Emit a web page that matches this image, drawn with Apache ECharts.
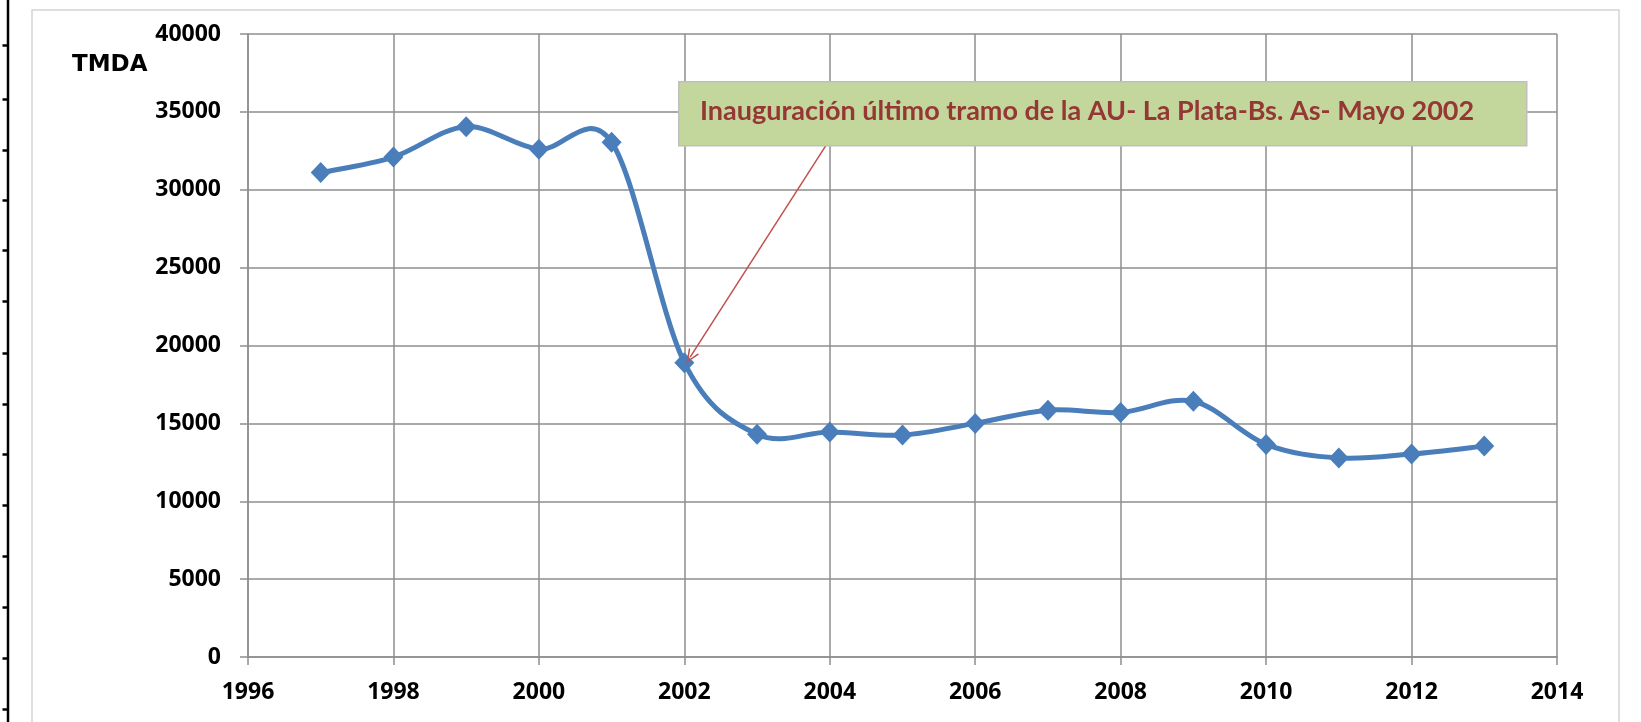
<!DOCTYPE html>
<html>
<head>
<meta charset="utf-8">
<script src="https://cdn.jsdelivr.net/npm/echarts@6/dist/echarts.min.js"></script>
<style>
html,body{margin:0;padding:0;background:#fff;}
#chart{width:1641px;height:722px;}
</style>
</head>
<body>
<div id="chart"></div>
<script>
// TMDA por año
var years = [1997, 1998, 1999, 2000, 2001, 2002, 2003, 2004, 2005, 2006, 2007, 2008, 2009, 2010, 2011, 2012, 2013];
var tmda  = [31100, 32100, 34050, 32600, 33050, 18900, 14300, 14450, 14250, 15000, 15850, 15700, 16420, 13650, 12780, 13030, 13540];

var annotText = 'Inauguración último tramo de la AU- La Plata-Bs. As- Mayo 2002';
// arrow from the note box down to the 2002 point
var arrowFrom = [2003.95, 32860];
var arrowTo = [2002.08, 19250];

var tickFont = '"Open Sans", sans-serif';
var gridColor = '#8e8e8e';
var lineColor = '#4A7EBB';

// stray ruler on the left edge of the picture
var rulerTicks = [-8, 43, 97, 148, 198, 248, 299, 351, 402, 452, 503, 554, 605, 656, 707];

var rulerEls = [{
    type: 'line',
    shape: {x1: 5.5, y1: 0, x2: 5.5, y2: 740},
    style: {stroke: '#000', lineWidth: 2.5}
}];
rulerTicks.forEach(function (y) {
    rulerEls.push({
        type: 'line',
        shape: {x1: 0, y1: y + 8, x2: 6, y2: y + 8},
        style: {stroke: '#000', lineWidth: 2.5}
    });
});

// one item per segment: previous, start, end, next point (excel-like smoothing)
var segData = [];
for (var i = 0; i < years.length - 1; i++) {
    var a = Math.max(i - 1, 0), d = Math.min(i + 2, years.length - 1);
    segData.push([years[a], tmda[a], years[i], tmda[i], years[i + 1], tmda[i + 1], years[d], tmda[d]]);
}

function renderSeg(params, api) {
    var p0 = api.coord([api.value(0), api.value(1)]);
    var p1 = api.coord([api.value(2), api.value(3)]);
    var p2 = api.coord([api.value(4), api.value(5)]);
    var p3 = api.coord([api.value(6), api.value(7)]);
    return {
        type: 'bezierCurve',
        shape: {
            x1: p1[0], y1: p1[1],
            x2: p2[0], y2: p2[1],
            cpx1: p1[0] + (p2[0] - p0[0]) / 6,
            cpy1: p1[1] + (p2[1] - p0[1]) / 6,
            cpx2: p2[0] - (p3[0] - p1[0]) / 6,
            cpy2: p2[1] - (p3[1] - p1[1]) / 6
        },
        style: {stroke: lineColor, lineWidth: 5, fill: null, lineCap: 'round'}
    };
}

var chart = echarts.init(document.getElementById('chart'));

var labelStyle = {
    color: '#000',
    fontFamily: tickFont,
    fontWeight: 'bold',
    fontSize: 23,
    formatter: function (v) { return String(v); }
};

var option = {
    backgroundColor: '#fff',
    animation: false,
    grid: {left: 248, top: 34, width: 1309, height: 623},
    xAxis: {
        type: 'value',
        min: 1996,
        max: 2014,
        interval: 2,
        axisLine: {show: true, lineStyle: {color: gridColor, width: 1.5}},
        axisTick: {show: true, length: 8, lineStyle: {color: gridColor, width: 1.5}},
        splitLine: {show: true, lineStyle: {color: gridColor, width: 1.5}},
        axisLabel: Object.assign({margin: 24, showMinLabel: true, showMaxLabel: true}, labelStyle)
    },
    yAxis: {
        type: 'value',
        min: 0,
        max: 40000,
        interval: 5000,
        axisLine: {show: true, lineStyle: {color: gridColor, width: 1.5}},
        axisTick: {show: true, length: 8, lineStyle: {color: gridColor, width: 1.5}},
        splitLine: {show: true, lineStyle: {color: gridColor, width: 1.5}},
        axisLabel: Object.assign({margin: 27}, labelStyle)
    },
    series: [
        {
            name: 'TMDA curve',
            type: 'custom',
            renderItem: renderSeg,
            data: segData,
            silent: true,
            z: 2
        },
        {
            name: 'TMDA',
            type: 'line',
            data: years.map(function (y, i) { return [y, tmda[i]]; }),
            symbol: 'diamond',
            symbolSize: [20, 21],
            showAllSymbol: true,
            lineStyle: {opacity: 0},
            itemStyle: {color: lineColor},
            z: 3,
            markLine: {
                silent: true,
                symbol: ['none', 'path://M0,12 L5,0 L10,12 L8.6,12 L5,3 L1.4,12 Z'],
                symbolSize: [12, 14],
                label: {show: false},
                lineStyle: {color: '#C0504D', width: 1.5, type: 'solid'},
                data: [[{coord: arrowFrom}, {coord: arrowTo}]]
            }
        }
    ],
    graphic: [
        {
            type: 'rect',
            left: 29.5, top: 7.5,
            shape: {width: 1587, height: 730},
            style: {fill: null, stroke: '#d4d4d4', lineWidth: 1.5},
            z: 0
        },
        {
            type: 'group',
            left: 0, top: -8,
            children: rulerEls,
            z: 10
        },
        {
            type: 'text',
            left: 72, top: 54,
            style: {
                text: 'TMDA',
                fontFamily: '"DejaVu Sans", sans-serif',
                fontWeight: 'bold',
                fontSize: 23,
                fill: '#000'
            },
            z: 10
        },
        {
            type: 'rect',
            left: 678, top: 81,
            shape: {width: 848, height: 64},
            style: {fill: '#C3D69B', stroke: '#BFBFBF', lineWidth: 1.5},
            z: 20
        },
        {
            type: 'text',
            left: 700, top: 98,
            style: {
                text: annotText,
                fontFamily: 'Lato, sans-serif',
                fontWeight: 'bold',
                fontSize: 27,
                fill: '#953735'
            },
            z: 21
        }
    ]
};

chart.setOption(option);
</script>
</body>
</html>
